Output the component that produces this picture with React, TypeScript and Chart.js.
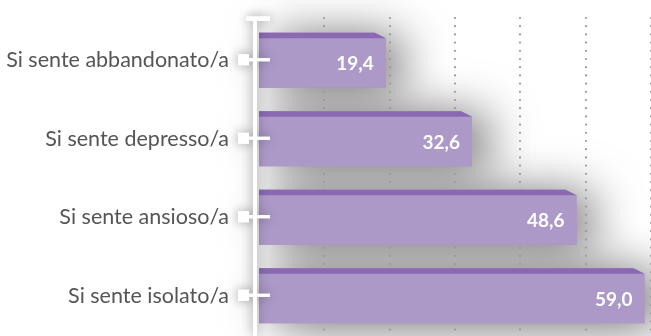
import React, { useEffect, useRef } from "react";
import { Chart, registerables } from "chart.js";

Chart.register(...registerables);

const categories = [
  "Si sente abbandonato/a",
  "Si sente depresso/a",
  "Si sente ansioso/a",
  "Si sente isolato/a",
];
const values = [19.4, 32.6, 48.6, 59.0];
const gridValues = [10, 20, 30, 40, 50, 60];
const labelText = (v: number) => v.toFixed(1).replace(".", ",");

const BODY = "#ac99c8";
const TOP = "#8a69b2";
const STRIP = 5.5;
const BEVEL = 11;

function barShape(ctx: any, x: number, top: number, bottom: number, base: number) {
  ctx.beginPath();
  ctx.moveTo(base, top);
  ctx.lineTo(x - BEVEL, top);
  ctx.lineTo(x, top + STRIP);
  ctx.lineTo(x, bottom);
  ctx.lineTo(base, bottom);
  ctx.closePath();
}

const barsPlugin = {
  id: "bars3d",
  beforeDatasetsDraw(chart: any) {
    const ctx = chart.ctx;
    const xs = chart.scales.x;
    const meta = chart.getDatasetMeta(0);
    const geo = meta.data.map((bar: any) => {
      const { x, y, base, height } = bar.getProps(["x", "y", "base", "height"], true);
      return { x, y, base, top: y - height / 2, bottom: y + height / 2 };
    });

    // shadows
    geo.forEach((g: any) => {
      ctx.save();
      ctx.shadowColor = "rgba(0,0,0,0.58)";
      ctx.shadowBlur = 48;
      ctx.shadowOffsetX = 16;
      ctx.shadowOffsetY = 3;
      ctx.fillStyle = BODY;
      barShape(ctx, g.x, g.top, g.bottom, g.base);
      ctx.fill();
      ctx.restore();
    });

    // dotted gridlines
    ctx.save();
    ctx.fillStyle = "#999999";
    gridValues.forEach((v) => {
      const x = Math.round(xs.getPixelForValue(v));
      for (let y = 17; y < chart.height; y += 8.2) {
        ctx.beginPath();
        ctx.arc(x, y + 1, 1.1, 0, Math.PI * 2);
        ctx.fill();
      }
    });
    ctx.restore();

    // bars
    geo.forEach((g: any, i: number) => {
      ctx.save();
      ctx.fillStyle = BODY;
      barShape(ctx, g.x, g.top, g.bottom, g.base);
      ctx.fill();
      ctx.fillStyle = TOP;
      ctx.beginPath();
      ctx.moveTo(g.base, g.top);
      ctx.lineTo(g.x - BEVEL, g.top);
      ctx.lineTo(g.x, g.top + STRIP);
      ctx.lineTo(g.base, g.top + STRIP);
      ctx.closePath();
      ctx.fill();
      ctx.fillStyle = "#ffffff";
      ctx.font = "bold 19px Lato, 'Noto Sans', sans-serif";
      ctx.textAlign = "right";
      ctx.textBaseline = "middle";
      ctx.fillText(labelText(values[i]), g.x - 12, (g.top + STRIP + g.bottom) / 2 + 1);
      ctx.restore();
    });

    // axis with shadow
    const ax = xs.getPixelForValue(0) - 4;
    const drawAxis = () => {
      ctx.fillStyle = "#ffffff";
      ctx.fillRect(ax - 2, 17, 4, chart.height - 17);
      ctx.fillRect(ax - 8.5, 16.5, 23.5, 4.5);
      geo.forEach((g: any) => {
        ctx.fillRect(238, g.y - 6, 11, 11);
        ctx.fillRect(249, g.y - 2, 21, 3);
      });
    };
    ctx.save();
    ctx.shadowColor = "rgba(0,0,0,0.4)";
    ctx.shadowBlur = 12;
    drawAxis();
    ctx.restore();
    ctx.save();
    drawAxis();
    ctx.restore();
  },
};

export default function App() {
  const ref = useRef<HTMLCanvasElement>(null);
  useEffect(() => {
    document.body.style.margin = "0";
    const chart = new Chart(ref.current!, {
      type: "bar",
      data: {
        labels: categories,
        datasets: [
          {
            data: values,
            backgroundColor: "rgba(0,0,0,0)",
            borderWidth: 0,
            barPercentage: 0.7,
            categoryPercentage: 1,
          },
        ],
      },
      options: {
        indexAxis: "y",
        animation: false,
        responsive: false,
        maintainAspectRatio: false,
        layout: { padding: { top: 21, bottom: 1, left: 0, right: 0 } },
        plugins: { legend: { display: false }, tooltip: { enabled: false } },
        scales: {
          x: { display: false, min: 0, max: 60 },
          y: {
            afterFit: (s: any) => {
              s.width = 259;
              s.paddingTop = 0;
              s.paddingBottom = 0;
            },
            grid: { display: false, drawTicks: false, tickLength: 0 },
            border: { display: false },
            ticks: {
              padding: 30,
              color: "#555555",
              font: { family: "Lato, 'Noto Sans', sans-serif", size: 21.5 },
            },
          },
        },
      },
      plugins: [barsPlugin],
    });
    return () => chart.destroy();
  }, []);
  return <canvas ref={ref} width={651} height={336} style={{ display: "block" }} />;
}
